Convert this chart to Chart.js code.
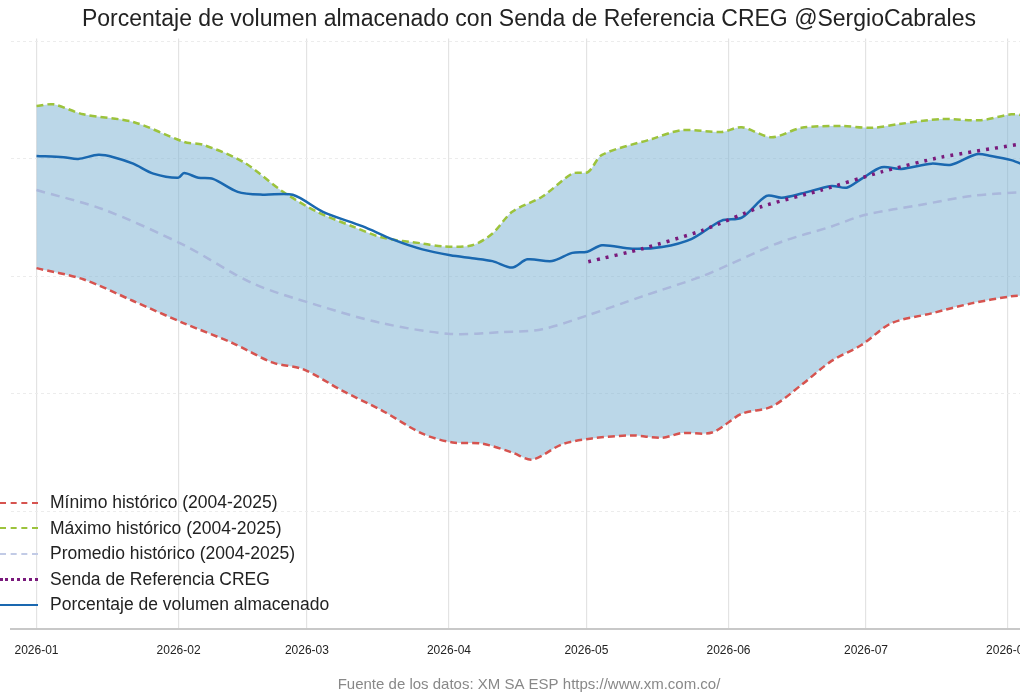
<!DOCTYPE html>
<html>
<head>
<meta charset="utf-8">
<script src="https://cdn.jsdelivr.net/npm/chart.js@4"></script>
<style>
  body { margin: 0; background: #fff; }
  #wrap { position: relative; width: 1020px; height: 700px; overflow: hidden; }
  #legend { position: absolute; left: 0; top: 490px; font: 17.5px "Liberation Sans", Arial, sans-serif; color: #222; }
  #legend div { height: 25.5px; display: flex; align-items: center; }
  #legend span.sw { display: inline-block; width: 38px; margin-right: 12px; height: 0; }
</style>
</head>
<body>
<div id="wrap">
  <canvas id="c" width="1058" height="700"></canvas>
  <div id="legend">
    <div><span class="sw" style="border-top:2.5px dashed #d6534f"></span>Mínimo histórico (2004-2025)</div>
    <div><span class="sw" style="border-top:2.5px dashed #9cc33c"></span>Máximo histórico (2004-2025)</div>
    <div><span class="sw" style="border-top:2.5px dashed #c2cbe6"></span>Promedio histórico (2004-2025)</div>
    <div><span class="sw" style="border-top:3.5px dotted #7a1a7c"></span>Senda de Referencia CREG</div>
    <div><span class="sw" style="border-top:2.5px solid #1a68b0"></span>Porcentaje de volumen almacenado</div>
  </div>
</div>
<script>
// x values are days since 2026-01-01
const monthDays = [0, 31, 59, 90, 120, 151, 181, 212];
const monthLabels = ['2026-01', '2026-02', '2026-03', '2026-04', '2026-05', '2026-06', '2026-07', '2026-08'];

const maxDays = [0, 3.7, 10.2, 21.1, 32.2, 36.4, 45.1, 53.8, 61.2, 69, 75.5, 84.2, 88.6, 95.1, 99.5, 103.8, 110.4, 116.9, 120.4, 123.4, 134.3, 140.8, 149.5, 153.9, 160.4, 166.9, 175.7, 182.2, 188.7, 197.4, 206.1, 212.7, 216];
const maxVals = [89, 89.3, 87.6, 86.3, 82.9, 82.4, 79.5, 74.4, 71, 68.5, 66.6, 65.6, 65.1, 65.3, 67.3, 71, 73.6, 77.5, 77.8, 80.7, 83.4, 84.9, 84.6, 85.4, 83.7, 85.3, 85.6, 85.3, 86, 86.8, 86.6, 87.6, 87.4];

const minDays = [0, 10.2, 21.1, 32.2, 42.9, 51.6, 58.1, 66.8, 75.5, 84.2, 90.8, 97.3, 103.8, 108.2, 114.7, 121.2, 130, 136.5, 140.8, 147.4, 153.9, 160.4, 166.9, 173.5, 180, 186.5, 195.3, 204, 212.7, 216];
const minVals = [61.4, 59.5, 55.8, 52, 48.6, 45.3, 44.2, 40.5, 37.1, 33.2, 31.7, 31.5, 30, 28.8, 31.4, 32.4, 32.9, 32.5, 33.3, 33.4, 36.6, 37.8, 41.5, 45.6, 48.3, 52, 53.7, 55.4, 56.6, 56.8];

const avgDays = [0, 14.6, 32.2, 47.2, 61.2, 75.5, 90.3, 101.7, 110.4, 120.4, 132.2, 145.2, 151.1, 162.6, 173.5, 180.9, 193.1, 204, 216];
const avgVals = [74.7, 71.4, 65.3, 58.8, 55.1, 52, 50.2, 50.5, 51, 53.4, 56.6, 60, 62, 65.9, 68.5, 70.5, 72.2, 73.7, 74.4];

const cregDays = [120.4, 132.2, 145.2, 158.3, 171.3, 184.4, 197.4, 216];
const cregVals = [62.5, 64.7, 67.8, 71.9, 74.7, 77.8, 80.3, 82.7];

const realDays = [0, 5.9, 9.1, 13.5, 16.8, 21.1, 25.5, 30.9, 32.2, 35.3, 38.5, 43.9, 49.4, 55.9, 62.5, 71.2, 77.7, 84.2, 90.3, 95.1, 99.5, 103.8, 107.1, 112.5, 116.9, 120.2, 123.4, 130, 136.5, 143, 149.5, 153.9, 159.3, 162.6, 166.9, 173.5, 176.8, 180, 184.4, 188.7, 195.3, 199.6, 205.1, 208.3, 212.7, 216];
const realVals = [80.5, 80.3, 80, 80.7, 80.3, 79.2, 77.5, 76.8, 77.6, 76.8, 76.6, 74.4, 73.9, 73.9, 71, 68.5, 66.3, 64.6, 63.6, 63.1, 62.6, 61.5, 62.9, 62.6, 64, 64.2, 65.3, 64.7, 65, 66.4, 69.5, 70, 73.7, 73.4, 74.1, 75.4, 75.1, 76.6, 78.6, 78.3, 79.2, 79, 80.8, 80.5, 79.8, 78.8];

const pts = (xs, ys) => xs.map((x, i) => ({ x: x, y: ys[i] }));

new Chart(document.getElementById('c'), {
  type: 'line',
  data: {
    datasets: [
      { label: 'Mínimo', data: pts(minDays, minVals), borderColor: '#d6534f', borderDash: [7, 4], borderWidth: 2.5,
        fill: 1, backgroundColor: 'rgba(120,175,210,0.5)', pointRadius: 0, tension: 0.3, order: 5 },
      { label: 'Máximo', data: pts(maxDays, maxVals), borderColor: '#9cc33c', borderDash: [7, 4], borderWidth: 2.5,
        pointRadius: 0, tension: 0.3, order: 4 },
      { label: 'Promedio', data: pts(avgDays, avgVals), borderColor: '#aab8dc', borderDash: [9, 6], borderWidth: 2.5,
        pointRadius: 0, tension: 0.3, order: 3 },
      { label: 'Senda', data: pts(cregDays, cregVals), borderColor: '#7a1a7c', borderDash: [3, 6], borderWidth: 3.5,
        pointRadius: 0, tension: 0.2, order: 1 },
      { label: 'Real', data: pts(realDays, realVals), borderColor: '#1a68b0', borderWidth: 2.5,
        pointRadius: 0, tension: 0.3, order: 2 }
    ]
  },
  options: {
    animation: false,
    responsive: false,
    layout: { padding: 0 },
    plugins: {
      legend: { display: false },
      tooltip: { enabled: false },
      title: { display: true, text: 'Porcentaje de volumen almacenado con Senda de Referencia CREG @SergioCabrales',
        color: '#222', font: { family: 'Liberation Sans, Arial', size: 23, weight: 'normal' }, padding: { top: 6, bottom: 5 } },
      subtitle: { display: true, position: 'bottom', text: 'Fuente de los datos: XM SA ESP https://www.xm.com.co/',
        color: '#888', font: { family: 'Liberation Sans, Arial', size: 15 }, padding: { top: 4, bottom: 6 } }
    },
    scales: {
      x: {
        type: 'linear', min: -5.55, max: 222.9,
        afterBuildTicks: s => { s.ticks = monthDays.map(v => ({ value: v })); },
        ticks: { callback: (v) => monthLabels[monthDays.indexOf(v)], color: '#222', font: { family: 'Liberation Sans, Arial', size: 12 }, padding: 14.5, maxRotation: 0, autoSkip: false },
        grid: { color: '#e3e3e3', lineWidth: 1.2, drawTicks: false },
        border: { color: '#c8c8c8', width: 2 }
      },
      y: {
        min: 0, max: 100.5,
        afterBuildTicks: s => { s.ticks = [0, 20, 40, 60, 80, 100].map(v => ({ value: v })); },
        ticks: { display: false },
        grid: { color: '#ececec', drawTicks: false },
        border: { display: false, dash: [3, 3] }
      }
    }
  }
});
</script>
</body>
</html>
